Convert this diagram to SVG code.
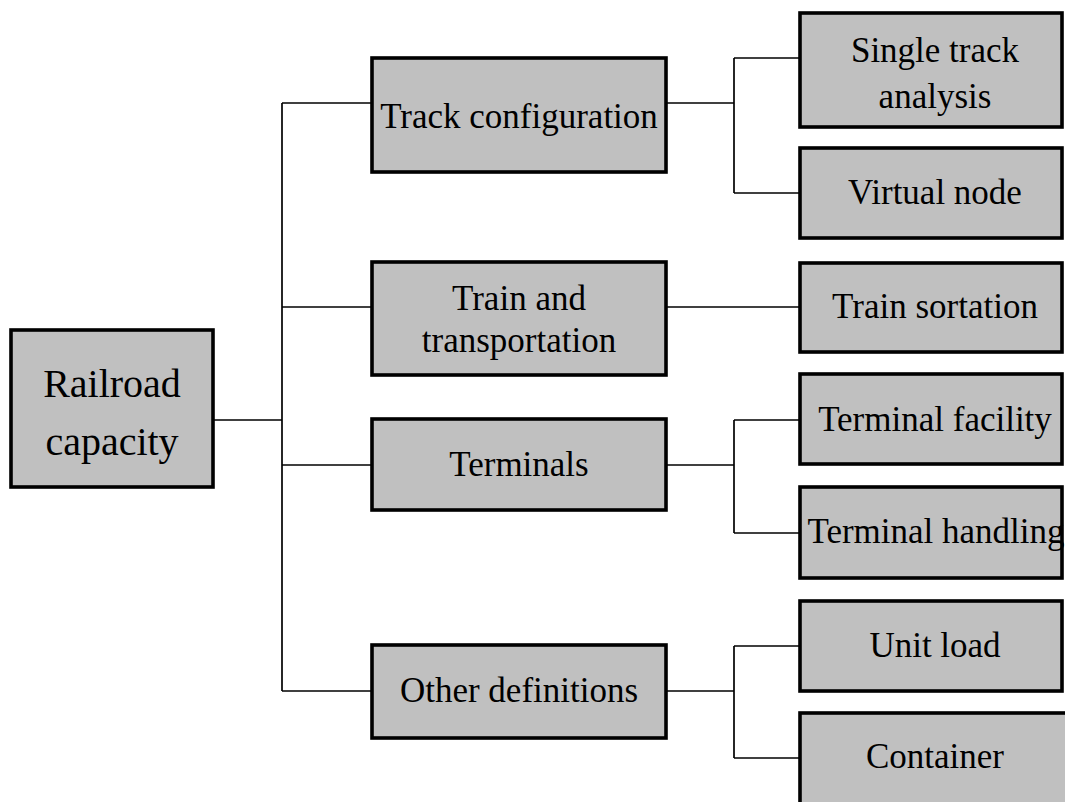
<svg xmlns="http://www.w3.org/2000/svg" width="1065" height="802" viewBox="0 0 1065 802">
  <style>
    .box rect { fill: #c0c0c0; stroke: #000; stroke-width: 3.6; }
    .links path { fill: none; stroke: #000; stroke-width: 1.7; }
  </style>

  <rect width="1065" height="802" fill="#fff"/>

  <!-- connectors -->
  <g id="connectors" class="links">
    <!-- root to trunk -->
    <path d="M213 420 H282"/>
    <path d="M282 103 V691"/>
    <path d="M282 103 H372"/>
    <path d="M282 307 H372"/>
    <path d="M282 465 H372"/>
    <path d="M282 691 H372"/>
    <!-- track configuration branch -->
    <path d="M666 103 H734"/>
    <path d="M734 58 V193"/>
    <path d="M734 58 H800"/>
    <path d="M734 193 H800"/>
    <!-- train and transportation branch -->
    <path d="M666 307 H800"/>
    <!-- terminals branch -->
    <path d="M666 465 H734"/>
    <path d="M734 420 V533"/>
    <path d="M734 420 H800"/>
    <path d="M734 533 H800"/>
    <!-- other definitions branch -->
    <path d="M666 691 H734"/>
    <path d="M734 646 V758"/>
    <path d="M734 646 H800"/>
    <path d="M734 758 H800"/>
  </g>

  <!-- root -->
  <g id="railroad-capacity" class="box">
    <rect x="11" y="330" width="202" height="157"/>
    <text x="112" y="397" font-family="'Liberation Serif', serif" font-size="40" text-anchor="middle">Railroad</text>
    <text x="112" y="455" font-family="'Liberation Serif', serif" font-size="40" text-anchor="middle">capacity</text>
  </g>

  <!-- second level -->
  <g id="track-configuration" class="box">
    <rect x="372" y="58" width="294" height="114"/>
    <text x="519" y="128" font-family="'Liberation Serif', serif" font-size="35" text-anchor="middle">Track configuration</text>
  </g>
  <g id="train-and-transportation" class="box">
    <rect x="372" y="262" width="294" height="113"/>
    <text x="519" y="310" font-family="'Liberation Serif', serif" font-size="35" text-anchor="middle">Train and</text>
    <text x="519" y="352" font-family="'Liberation Serif', serif" font-size="35" text-anchor="middle">transportation</text>
  </g>
  <g id="terminals" class="box">
    <rect x="372" y="419" width="294" height="91"/>
    <text x="519" y="476" font-family="'Liberation Serif', serif" font-size="35" text-anchor="middle">Terminals</text>
  </g>
  <g id="other-definitions" class="box">
    <rect x="372" y="645" width="294" height="93"/>
    <text x="519" y="702" font-family="'Liberation Serif', serif" font-size="35" text-anchor="middle">Other definitions</text>
  </g>

  <!-- third level -->
  <g id="single-track-analysis" class="box">
    <rect x="800" y="13" width="262" height="114"/>
    <text x="935" y="62" font-family="'Liberation Serif', serif" font-size="35" text-anchor="middle">Single track</text>
    <text x="935" y="108" font-family="'Liberation Serif', serif" font-size="35" text-anchor="middle">analysis</text>
  </g>
  <g id="virtual-node" class="box">
    <rect x="800" y="148" width="262" height="90"/>
    <text x="935" y="204" font-family="'Liberation Serif', serif" font-size="35" text-anchor="middle">Virtual node</text>
  </g>
  <g id="train-sortation" class="box">
    <rect x="800" y="263" width="262" height="89"/>
    <text x="935" y="318" font-family="'Liberation Serif', serif" font-size="35" text-anchor="middle">Train sortation</text>
  </g>
  <g id="terminal-facility" class="box">
    <rect x="800" y="374" width="262" height="90"/>
    <text x="935" y="431" font-family="'Liberation Serif', serif" font-size="35" text-anchor="middle">Terminal facility</text>
  </g>
  <g id="terminal-handling" class="box">
    <rect x="800" y="487" width="262" height="91"/>
    <text x="936" y="543" font-family="'Liberation Serif', serif" font-size="35" text-anchor="middle">Terminal handling</text>
  </g>
  <g id="unit-load" class="box">
    <rect x="800" y="601" width="262" height="90"/>
    <text x="935" y="657" font-family="'Liberation Serif', serif" font-size="35" text-anchor="middle">Unit load</text>
  </g>
  <g id="container" class="box">
    <rect x="800" y="713" width="275" height="100"/>
    <text x="935" y="768" font-family="'Liberation Serif', serif" font-size="35" text-anchor="middle">Container</text>
  </g>
</svg>
